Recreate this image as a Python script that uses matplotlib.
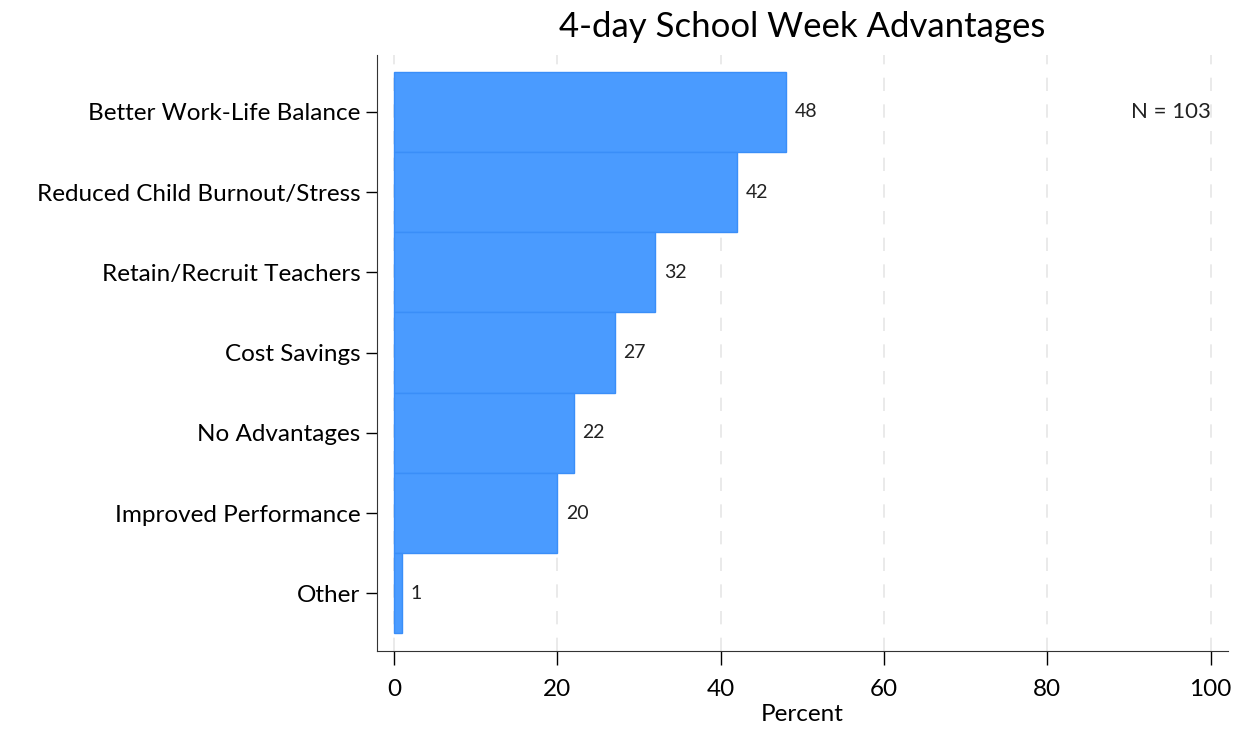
import numpy as np
import matplotlib.pyplot as plt

categories = ["Better Work-Life Balance", "Reduced Child Burnout/Stress",
              "Retain/Recruit Teachers", "Cost Savings", "No Advantages",
              "Improved Performance", "Other"]
values = [48, 42, 32, 27, 22, 20, 1]
xticks = [0, 20, 40, 60, 80, 100]
n_total = 103

plt.rcParams['font.family'] = ['Lato', 'DejaVu Sans']

fig = plt.figure(figsize=(12.34, 7.30), dpi=100)
ax = fig.add_axes([0.3055, 0.1082, 0.6895, 0.8165])

pos = np.arange(len(categories))[::-1]
ax.barh(pos, values, height=1.0, color='#4a9bff', edgecolor='#3a8ef8', linewidth=1)

for p, v in zip(pos, values):
    ax.annotate(str(v), (v, p), xytext=(6, 0), textcoords='offset points',
                va='center', ha='left', fontsize=14, color='#222222')

ax.text(100, pos[0], f"N = {n_total}", ha='right', va='center', fontsize=16, color='#222222')

for x in xticks:
    ax.axvline(x, color='#e6e6e6', linestyle=(0, (8, 8)), linewidth=1.2, zorder=0)

ax.set_xlim(-2.1, 102.1)
ax.set_ylim(-0.72, 6.71)
ax.set_xticks(xticks)
ax.set_yticks(pos)
ax.set_yticklabels(categories)
ax.tick_params(axis='y', length=8, width=1, labelsize=17.5, pad=4)
ax.tick_params(axis='x', length=10, width=1, labelsize=17.5, pad=10)
ax.set_xlabel("Percent", fontsize=17.5, labelpad=3)
ax.set_title("4-day School Week Advantages", fontsize=25, pad=13)

for s in ['top', 'right']:
    ax.spines[s].set_visible(False)
for s in ['left', 'bottom']:
    ax.spines[s].set_color('#333333')

fig.savefig("out.png", dpi=100)
